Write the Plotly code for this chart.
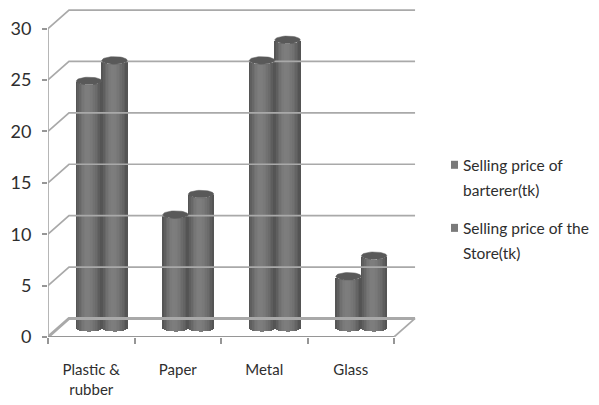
import math
import plotly.graph_objects as go

categories = ["Plastic &<br>rubber", "Paper", "Metal", "Glass"]
legend_lines = [["Selling price of", "barterer(tk)"], ["Selling price of the", "Store(tk)"]]
barterer = [24, 11, 26, 5]
store = [26, 13, 28, 7]
y_ticks = [0, 5, 10, 15, 20, 25, 30]

PXX, PXY = 86.5, 10.27          # pixels per data unit
DX, DY = 21 / PXX, 18.5 / PXY   # depth of the 3-D box
BW = 25.5 / PXX                 # cylinder width
CAP = 3.8 / PXY                 # half height of the ellipse
N = 16
GRID = "#a9a9a9"
TEXT = "#2e2e2e"
PAGE_OFFSET = 8                 # browser body margin around the figure
W, H = 599 - PAGE_OFFSET, 405 - PAGE_OFFSET
ML, MR, MT, MB = 48 - PAGE_OFFSET, 179, 8.4 - PAGE_OFFSET, 68


def shade(u):
    # u in [-1, 1] across the cylinder
    peak = -0.1
    t = 1 - min(1, abs(u - peak) / (1 - peak if u > peak else 1 + peak)) ** 1.8
    low, high = 0x50, 0x7e
    g = int(low + (high - low) * t)
    return f"rgb({g},{g},{g})"


def paper_x(px):
    return (px - PAGE_OFFSET - ML) / (W - ML - MR)


def paper_y(py):
    return 1 - (py - PAGE_OFFSET - MT) / (H - MT - MB)


fig = go.Figure()

# box: back wall lines, depth connectors, front axis lines
for v in y_ticks:
    fig.add_trace(go.Scatter(x=[0, DX, 4 + DX], y=[v, v + DY, v + DY], mode="lines",
                             line=dict(color=GRID, width=3 if v == 0 else 1.7),
                             hoverinfo="skip", showlegend=False))
fig.add_trace(go.Scatter(x=[4, 4 + DX], y=[0, DY], mode="lines", line=dict(color=GRID, width=1.7),
                         hoverinfo="skip", showlegend=False))
fig.add_trace(go.Scatter(x=[0, 0], y=[0, y_ticks[-1]], mode="lines", line=dict(color=GRID, width=1.7),
                         hoverinfo="skip", showlegend=False))
fig.add_trace(go.Scatter(x=[0, 4], y=[0, 0], mode="lines", line=dict(color="#969696", width=2),
                         hoverinfo="skip", showlegend=False))

# cylinders
for s, (name, vals) in enumerate(zip(["Selling price of barterer(tk)", "Selling price of the Store(tk)"],
                                     [barterer, store])):
    xs, bases, heights, cols = [], [], [], []
    for i, v in enumerate(vals):
        cx = i + 0.5 + DX / 2 + (s - 0.5) * BW
        for k in range(N):
            u = -1 + (2 * k + 1) / N
            xs.append(cx + u * BW / 2)
            bases.append(DY / 2 - CAP * math.sqrt(1 - u * u))
            heights.append(v)
            cols.append(shade(u))
    fig.add_trace(go.Bar(x=xs, y=heights, base=bases, width=BW / N * 1.5, name=name,
                         marker=dict(color=cols, line=dict(width=0)),
                         hoverinfo="skip", showlegend=False))
    for i, v in enumerate(vals):
        cx = i + 0.5 + DX / 2 + (s - 0.5) * BW
        angles = [2 * math.pi * a / 40 for a in range(41)]
        fig.add_trace(go.Scatter(x=[cx + BW / 2 * math.cos(a) for a in angles],
                                 y=[v + DY / 2 + CAP * math.sin(a) for a in angles],
                                 mode="lines", fill="toself", fillcolor="#595959",
                                 line=dict(color="#5e5e5e", width=0.5),
                                 hoverinfo="skip", showlegend=False))

# legend drawn line by line so its wide line spacing can be kept
annotations, shapes = [], []
line_rows = [[165, 190], [228, 253]]
for lines, rows in zip(legend_lines, line_rows):
    for text, row in zip(lines, rows):
        annotations.append(dict(text=text, xref="paper", yref="paper", x=paper_x(461), y=paper_y(row),
                                xanchor="left", yanchor="middle", showarrow=False,
                                font=dict(size=15.5, color=TEXT)))
    shapes.append(dict(type="rect", xref="paper", yref="paper", line=dict(width=0), fillcolor="#7a7a7a",
                       x0=paper_x(451), x1=paper_x(458), y0=paper_y(rows[0] - 4), y1=paper_y(rows[0] + 4)))

fig.update_layout(
    width=W, height=H, autosize=False,
    margin=dict(l=ML, r=MR, t=MT, b=MB, pad=0),
    paper_bgcolor="white", plot_bgcolor="white",
    barmode="overlay", bargap=0, showlegend=False,
    font=dict(family="Lato, 'Noto Sans', sans-serif", color=TEXT),
    annotations=annotations, shapes=shapes,
    xaxis=dict(range=[0, 4.3], showgrid=False, zeroline=False, showline=False,
               tickvals=[0.5, 1.5, 2.5, 3.5], ticktext=categories, ticks="",
               ticklabelstandoff=22, tickfont=dict(size=15),
               minor=dict(tickvals=[0, 1, 2, 3, 4], ticks="outside", ticklen=6,
                          tickcolor="#969696", tickwidth=1.5, showgrid=False)),
    yaxis=dict(range=[0, 32], showgrid=False, zeroline=False, showline=False,
               tickvals=y_ticks, ticks="outside", ticklen=5, tickcolor="#969696", tickwidth=1.5,
               ticklabelstandoff=7, tickfont=dict(size=18)),
)
fig.write_html("out.html")
